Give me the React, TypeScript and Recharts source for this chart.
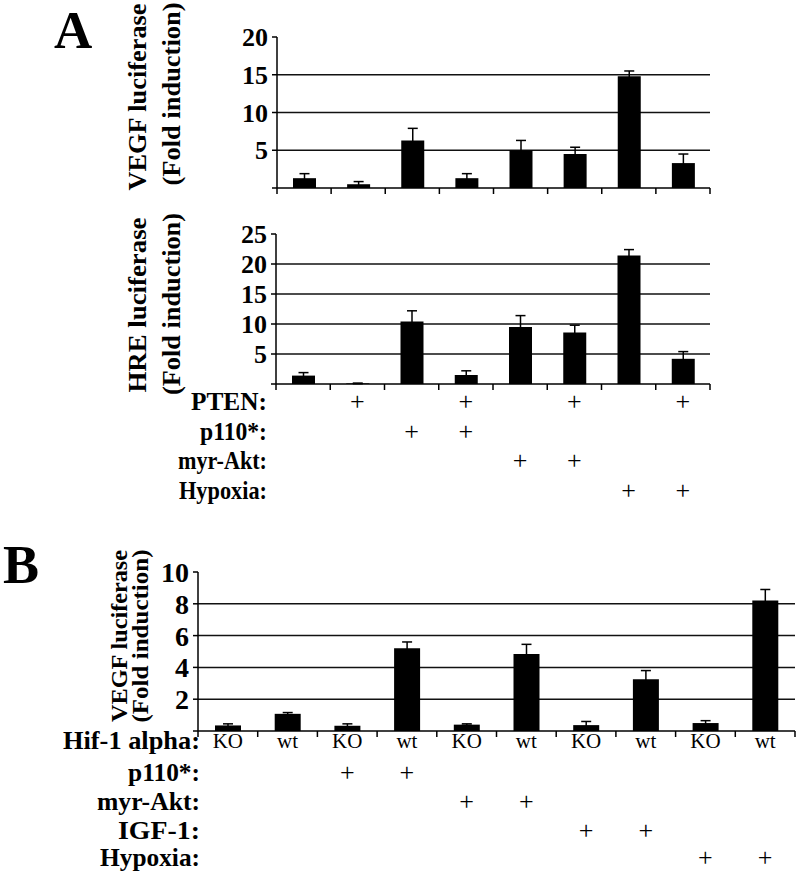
import React from "react";
import { BarChart, Bar, XAxis, YAxis, CartesianGrid, ErrorBar } from "recharts";

// panel A: 8 conditions
const condA = ["1", "2", "3", "4", "5", "6", "7", "8"];
const vegfA = [1.3, 0.5, 6.3, 1.3, 5.0, 4.5, 14.8, 3.3];
const vegfAErr = [0.6, 0.35, 1.6, 0.6, 1.3, 0.9, 0.7, 1.2];
const hreA = [1.4, 0.1, 10.4, 1.5, 9.5, 8.6, 21.4, 4.2];
const hreAErr = [0.5, 0.05, 1.8, 0.7, 1.9, 1.2, 1.0, 1.2];
const ptenA = [false, true, false, true, false, true, false, true];
const p110A = [false, false, true, true, false, false, false, false];
const aktA = [false, false, false, false, true, true, false, false];
const hypoxiaA = [false, false, false, false, false, false, true, true];
const rowNamesA = ["PTEN:", "p110*:", "myr-Akt:", "Hypoxia:"];

// panel B: 10 conditions
const condB = ["1", "2", "3", "4", "5", "6", "7", "8", "9", "10"];
const vegfB = [0.35, 1.08, 0.33, 5.2, 0.4, 4.85, 0.37, 3.25, 0.5, 8.2];
const vegfBErr = [0.1, 0.08, 0.12, 0.4, 0.05, 0.6, 0.23, 0.55, 0.15, 0.7];
const hifB = ["KO", "wt", "KO", "wt", "KO", "wt", "KO", "wt", "KO", "wt"];
const p110B = [false, false, true, true, false, false, false, false, false, false];
const aktB = [false, false, false, false, true, true, false, false, false, false];
const igfB = [false, false, false, false, false, false, true, true, false, false];
const hypoxiaB = [false, false, false, false, false, false, false, false, true, true];
const rowNamesB = ["Hif-1 alpha:", "p110*:", "myr-Akt:", "IGF-1:", "Hypoxia:"];

const dataVegfA = condA.map((c, i) => ({ c, v: vegfA[i], err: vegfAErr[i] }));
const dataHreA = condA.map((c, i) => ({ c, v: hreA[i], err: hreAErr[i] }));
const dataVegfB = condB.map((c, i) => ({ c, v: vegfB[i], err: vegfBErr[i] }));

const FONT = "'Liberation Serif', 'Times New Roman', serif";

// x-axis tick: marks at category boundaries, plus signs / labels in rows below
const makeTick = (rows: boolean[][], offsets: number[], labels?: string[]) => (props: any) => {
    const { x, y, payload, width, visibleTicksCount } = props;
    const i = payload.index;
    const n = visibleTicksCount || 1;
    const half = width / n / 2;
    const rowStart = labels ? 1 : 0;
    return (
        <g>
            <line x1={x - half} x2={x - half} y1={y} y2={y + 6} stroke="#000" strokeWidth={1.5} />
            {i === n - 1 && <line x1={x + half} x2={x + half} y1={y} y2={y + 6} stroke="#000" strokeWidth={1.5} />}
            {labels && (
                <text x={x} y={y + offsets[0]} textAnchor="middle" dominantBaseline="central"
                    fontSize={21} fontFamily={FONT} fill="#000">{labels[i]}</text>
            )}
            {rows.map((r, k) =>
                r[i] ? (
                    <text key={k} x={x} y={y + offsets[k + rowStart]} textAnchor="middle" dominantBaseline="central"
                        fontSize={26} fontFamily={FONT} fill="#000">+</text>
                ) : null
            )}
        </g>
    );
};

type PanelProps = {
    data: { c: string; v: number; err: number }[];
    top: number;
    height: number;
    margin: { top: number; right: number; bottom: number; left: number };
    axisHeight: number;
    yMax: number;
    yTicks: number[];
    grid: number[];
    barSize: number;
    tick: any;
    tickFont: number;
};

const Panel = ({ data, top, height, margin, axisHeight, yMax, yTicks, grid, barSize, tick, tickFont }: PanelProps) => (
    <div style={{ position: "absolute", left: 0, top }}>
        <BarChart width={800} height={height} data={data} margin={margin}>
            <CartesianGrid vertical={false} horizontalValues={grid} stroke="#111" strokeWidth={1.5} />
            <XAxis dataKey="c" height={axisHeight} axisLine={{ stroke: "#000", strokeWidth: 1.5 }} tickLine={false}
                tickSize={0} tickMargin={0} tick={tick} interval={0} />
            <YAxis domain={[0, yMax]} ticks={yTicks} interval={0} width={60} tickSize={5} tickMargin={4}
                tickFormatter={(v) => (v === 0 ? "" : String(v))}
                tick={{ fontSize: tickFont, fontWeight: "bold", fontFamily: FONT, fill: "#000" }}
                axisLine={{ stroke: "#000", strokeWidth: 1.5 }} tickLine={{ stroke: "#000", strokeWidth: 1.5 }} />
            <Bar dataKey="v" fill="#000" barSize={barSize} isAnimationActive={false}>
                <ErrorBar dataKey="err" width={5} stroke="#000" strokeWidth={1.5} />
            </Bar>
        </BarChart>
    </div>
);

const VTitle = ({ x, y, text, size, len }: { x: number; y: number; text: string; size: number; len: number }) => (
    <text x={x} y={y} transform={`rotate(-90 ${x} ${y})`} textAnchor="middle" dominantBaseline="central"
        fontSize={size} fontWeight="bold" fontFamily={FONT} fill="#000"
        textLength={len} lengthAdjust="spacingAndGlyphs">{text}</text>
);

const RowLabel = ({ x, y, text, size, len }: { x: number; y: number; text: string; size: number; len: number }) => (
    <text x={x} y={y} textAnchor="end" dominantBaseline="central" fontSize={size} fontWeight="bold"
        fontFamily={FONT} fill="#000" textLength={len} lengthAdjust="spacingAndGlyphs">{text}</text>
);

const rowYA = [401, 431, 460, 490];
const rowLenA = [76, 67, 89, 88];
const rowYB = [740, 772, 801, 830, 857];
const rowLenB = [137, 72, 103, 82, 100];

const App = () => {
    return (
        <div style={{ position: "absolute", left: 0, top: 0, width: 800, height: 873, background: "#fff" }}>
            <Panel data={dataVegfA} top={0} height={200} margin={{ top: 37, right: 90, bottom: 0, left: 217 }}
                axisHeight={12} yMax={20} yTicks={[0, 5, 10, 15, 20]} grid={[5, 10, 15]} barSize={23}
                tick={makeTick([], [])} tickFont={26} />
            <Panel data={dataHreA} top={190} height={320} margin={{ top: 44, right: 90, bottom: 0, left: 216 }}
                axisHeight={126} yMax={25} yTicks={[0, 5, 10, 15, 20, 25]} grid={[5, 10, 15, 20]} barSize={23}
                tick={makeTick([ptenA, p110A, aktA, hypoxiaA], [17, 47, 76, 106])} tickFont={26} />
            <Panel data={dataVegfB} top={540} height={333} margin={{ top: 32, right: 5, bottom: 0, left: 138 }}
                axisHeight={142} yMax={10} yTicks={[0, 2, 4, 6, 8, 10]} grid={[2, 4, 6, 8]} barSize={26}
                tick={makeTick([p110B, aktB, igfB, hypoxiaB], [10, 41, 70, 99, 126], hifB)} tickFont={28} />
            <svg width={800} height={873} style={{ position: "absolute", left: 0, top: 0, pointerEvents: "none" }}>
                <text x={54} y={48} fontSize={53} fontWeight="bold" fontFamily={FONT} fill="#000">A</text>
                <text x={3} y={583} fontSize={54} fontWeight="bold" fontFamily={FONT} fill="#000">B</text>
                <VTitle x={137} y={97} text="VEGF luciferase" size={26} len={187} />
                <VTitle x={171} y={94} text="(Fold induction)" size={26} len={183} />
                <VTitle x={137} y={305} text="HRE luciferase" size={26} len={175} />
                <VTitle x={171} y={304} text="(Fold induction)" size={26} len={182} />
                <VTitle x={119} y={636} text="VEGF luciferase" size={24} len={172} />
                <VTitle x={140} y={636} text="(Fold induction)" size={24} len={173} />
                {rowNamesA.map((n, k) => (
                    <RowLabel key={n} x={267} y={rowYA[k]} text={n} size={26} len={rowLenA[k]} />
                ))}
                {rowNamesB.map((n, k) => (
                    <RowLabel key={n} x={200} y={rowYB[k]} text={n} size={25} len={rowLenB[k]} />
                ))}
            </svg>
        </div>
    );
};

export default App;
